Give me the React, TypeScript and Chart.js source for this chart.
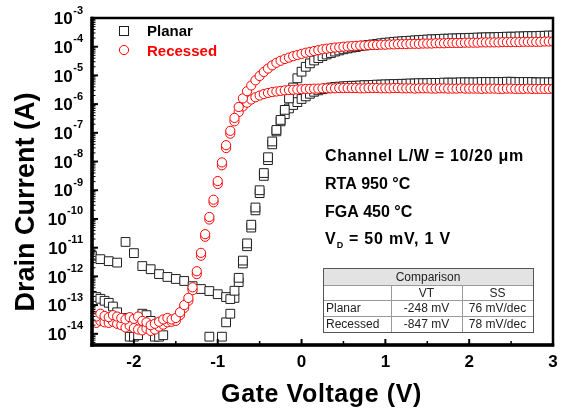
import React, { useEffect, useRef } from 'react';
import { Chart, registerables } from 'chart.js';

Chart.register(...registerables);

const FONT = '"Liberation Sans", Arial, Helvetica, sans-serif';

// Gate voltage sweep (V)
const gateVoltage = [
  -2.5, -2.45, -2.4, -2.35, -2.3, -2.25, -2.2, -2.15, -2.1, -2.05,
  -2, -1.95, -1.9, -1.85, -1.8, -1.75, -1.7, -1.65, -1.6, -1.55,
  -1.5, -1.45, -1.4, -1.35, -1.3, -1.25, -1.2, -1.15, -1.1, -1.05,
  -1, -0.95, -0.9, -0.85, -0.8, -0.75, -0.7, -0.65, -0.6, -0.55,
  -0.5, -0.45, -0.4, -0.35, -0.3, -0.25, -0.2, -0.15, -0.1, -0.05,
  0, 0.05, 0.1, 0.15, 0.2, 0.25, 0.3, 0.35, 0.4, 0.45,
  0.5, 0.55, 0.6, 0.65, 0.7, 0.75, 0.8, 0.85, 0.9, 0.95,
  1, 1.05, 1.1, 1.15, 1.2, 1.25, 1.3, 1.35, 1.4, 1.45,
  1.5, 1.55, 1.6, 1.65, 1.7, 1.75, 1.8, 1.85, 1.9, 1.95,
  2, 2.05, 2.1, 2.15, 2.2, 2.25, 2.3, 2.35, 2.4, 2.45,
  2.5, 2.55, 2.6, 2.65, 2.7, 2.75, 2.8, 2.85, 2.9, 2.95,
  3,
];

// log10 of drain current (A)
const planar1VLog = [
  -11.28, -15, -11.40, -15, -11.47, -15, -11.52, -15, -10.80, -15,
  -11.19, -15, -11.64, -15, -11.75, -15, -11.92, -15, -12.02, -15,
  -12.09, -15, -12.16, -15, -12.34, -15, -12.44, -15, -12.51, -15,
  -12.62, -15, -12.72, -12.79, -12.50, -12.05, -11.45, -10.85, -10.20, -9.60,
  -9.00, -8.40, -7.85, -7.30, -6.90, -6.55, -6.20, -5.80, -5.42, -5.10,
  -4.87, -4.70, -4.58, -4.48, -4.40, -4.33, -4.27, -4.22, -4.17, -4.13,
  -4.09, -4.06, -4.03, -4.01, -3.98, -3.96, -3.94, -3.92, -3.90, -3.88,
  -3.86, -3.85, -3.83, -3.82, -3.81, -3.80, -3.79, -3.78, -3.77, -3.76,
  -3.75, -3.74, -3.74, -3.73, -3.72, -3.72, -3.71, -3.71, -3.70, -3.70,
  -3.69, -3.69, -3.68, -3.68, -3.67, -3.67, -3.67, -3.66, -3.66, -3.65,
  -3.65, -3.65, -3.64, -3.64, -3.63, -3.63, -3.63, -3.62, -3.62, -3.61,
  -3.61,
];

const planar50mVLog = [
  -12.68, -12.72, -12.78, -12.85, -12.92, -13.05, -13.25, -13.50, -13.45, -14.10,
  -14.10, -14.05, -13.30, -13.35, -13.55, -14.10, -14.10, -14.05, -13.55, -15,
  -15, -15, -15, -15, -15, -15, -15, -15, -14.10, -15,
  -15, -14.10, -13.60, -13.30, -12.75, -12.20, -11.55, -10.95, -10.30, -9.70,
  -9.10, -8.50, -7.95, -7.40, -6.95, -6.60, -6.35, -6.15, -6.03, -5.93,
  -5.82, -5.73, -5.64, -5.57, -5.52, -5.48, -5.45, -5.42, -5.40, -5.39,
  -5.38, -5.37, -5.36, -5.36, -5.35, -5.34, -5.34, -5.33, -5.32, -5.32,
  -5.31, -5.31, -5.30, -5.30, -5.29, -5.29, -5.28, -5.28, -5.27, -5.27,
  -5.27, -5.26, -5.26, -5.26, -5.25, -5.25, -5.25, -5.25, -5.24, -5.24,
  -5.24, -5.24, -5.24, -5.23, -5.23, -5.23, -5.23, -5.23, -5.23, -5.22,
  -5.22, -5.23, -5.23, -5.23, -5.23, -5.23, -5.24, -5.24, -5.24, -5.24,
  -5.24,
];

const recessed1VLog = [
  -13.35, -13.40, -13.30, -13.38, -13.42, -13.35, -13.40, -13.45, -13.50, -13.42,
  -13.48, -13.40, -13.55, -13.60, -13.70, -13.65, -13.58, -13.50, -13.45, -13.50,
  -13.45, -13.25, -13.00, -12.75, -12.38, -11.82, -11.18, -10.53, -9.93, -9.33,
  -8.68, -8.03, -7.43, -6.93, -6.48, -6.10, -5.80, -5.55, -5.35, -5.17,
  -5.02, -4.88, -4.76, -4.65, -4.56, -4.49, -4.43, -4.38, -4.33, -4.29,
  -4.25, -4.21, -4.18, -4.15, -4.12, -4.09, -4.07, -4.05, -4.03, -4.02,
  -4.00, -3.99, -3.98, -3.97, -3.96, -3.96, -3.95, -3.94, -3.94, -3.93,
  -3.93, -3.92, -3.92, -3.91, -3.91, -3.91, -3.90, -3.90, -3.90, -3.89,
  -3.89, -3.89, -3.88, -3.88, -3.88, -3.87, -3.87, -3.87, -3.87, -3.86,
  -3.86, -3.86, -3.86, -3.85, -3.85, -3.85, -3.85, -3.85, -3.84, -3.84,
  -3.84, -3.84, -3.84, -3.83, -3.83, -3.83, -3.83, -3.83, -3.82, -3.82,
  -3.82,
];

const recessed50mVLog = [
  -13.58, -13.62, -13.55, -13.60, -13.62, -13.58, -13.65, -13.70, -13.78, -13.72,
  -13.80, -13.85, -13.88, -13.82, -13.90, -13.85, -13.75, -13.68, -13.60, -13.58,
  -13.55, -13.35, -13.10, -12.85, -12.48, -11.92, -11.28, -10.62, -10.02, -9.42,
  -8.78, -8.13, -7.53, -7.03, -6.60, -6.28, -6.08, -5.95, -5.84, -5.76,
  -5.70, -5.65, -5.61, -5.58, -5.56, -5.54, -5.52, -5.51, -5.50, -5.49,
  -5.48, -5.47, -5.47, -5.46, -5.46, -5.45, -5.45, -5.45, -5.45, -5.44,
  -5.44, -5.44, -5.44, -5.44, -5.45, -5.45, -5.44, -5.44, -5.44, -5.45,
  -5.45, -5.45, -5.44, -5.44, -5.45, -5.45, -5.45, -5.46, -5.45, -5.45,
  -5.45, -5.46, -5.46, -5.45, -5.45, -5.46, -5.46, -5.46, -5.45, -5.46,
  -5.46, -5.46, -5.46, -5.47, -5.46, -5.46, -5.46, -5.47, -5.47, -5.46,
  -5.46, -5.47, -5.47, -5.47, -5.46, -5.47, -5.47, -5.47, -5.47, -5.47,
  -5.47,
];

// Axes
const xMin = -2.5;
const xMax = 3;
const xTicks = [-2, -1, 0, 1, 2, 3];
const xMinorTicks = [-1.5, -0.5, 0.5, 1.5, 2.5];
const yMinExp = -14.39;
const yMaxExp = -3;
const yTickExponents = [-3, -4, -5, -6, -7, -8, -9, -10, -11, -12, -13, -14];
const xTitle = 'Gate Voltage (V)';
const yTitle = 'Drain Current (A)';

// Legend and annotations
const legendLabels = ['Planar', 'Recessed'];
const legendColors = ['#000000', '#ff0000'];
const annotationLines = ['Channel L/W = 10/20 \u03bcm', 'RTA 950 \u00b0C', 'FGA 450 \u00b0C'];
const biasPrefix = 'V';
const biasSub = 'D';
const biasSuffix = ' = 50 mV, 1 V';

// Comparison table
const tableTitle = 'Comparison';
const tableHead = ['', 'VT', 'SS'];
const tableRows = [
  ['Planar', '-248 mV', '76 mV/dec'],
  ['Recessed', '-847 mV', '78 mV/dec'],
];

const RED = '#ff0000';
const DARK = '#1e1e1e';

function toPoints(logs: number[]) {
  return gateVoltage.map((v, i) => ({ x: v, y: Math.pow(10, logs[i]) }));
}

function line(ctx: CanvasRenderingContext2D, x1: number, y1: number, x2: number, y2: number) {
  ctx.beginPath();
  ctx.moveTo(x1, y1);
  ctx.lineTo(x2, y2);
  ctx.stroke();
}

const overlayPlugin = {
  id: 'overlay',
  afterDraw(chart: any) {
    const ctx: CanvasRenderingContext2D = chart.ctx;
    const a = chart.chartArea;
    const xs = chart.scales.x;
    const ys = chart.scales.y;
    ctx.save();
    ctx.strokeStyle = '#000';
    ctx.lineCap = 'butt';

    // frame
    ctx.lineWidth = 2.5;
    ctx.strokeRect(a.left, a.top, a.right - a.left, a.bottom - a.top);
    ctx.lineWidth = 3.5;
    line(ctx, a.left, a.top - 1.25, a.left, a.bottom + 1.75);
    line(ctx, a.left - 1.75, a.bottom, a.right + 1.25, a.bottom);

    // y ticks (inward)
    ctx.lineWidth = 2;
    yTickExponents.forEach((e) => {
      const y = ys.getPixelForValue(Math.pow(10, e));
      line(ctx, a.left, y, a.left + 6, y);
    });
    ctx.lineWidth = 1;
    for (let e = -15; e <= -4; e++) {
      for (let m = 2; m <= 9; m++) {
        const v = m * Math.pow(10, e);
        if (v <= ys.min || v >= ys.max) continue;
        const y = ys.getPixelForValue(v);
        line(ctx, a.left, y, a.left + 3.5, y);
      }
    }

    // x ticks (inward)
    ctx.lineWidth = 2;
    xTicks.forEach((v) => {
      const x = xs.getPixelForValue(v);
      line(ctx, x, a.bottom, x, a.bottom - 6);
    });
    ctx.lineWidth = 1.5;
    xMinorTicks.forEach((v) => {
      const x = xs.getPixelForValue(v);
      line(ctx, x, a.bottom, x, a.bottom - 4);
    });

    // y tick labels
    ctx.fillStyle = '#000';
    ctx.textBaseline = 'alphabetic';
    const labelRight = a.left - 9;
    yTickExponents.forEach((e) => {
      const y = ys.getPixelForValue(Math.pow(10, e));
      const exp = String(e);
      ctx.font = `bold 11px ${FONT}`;
      const we = ctx.measureText(exp).width;
      ctx.textAlign = 'left';
      ctx.fillText(exp, labelRight - we, y - 4.5);
      ctx.font = `bold 17px ${FONT}`;
      ctx.textAlign = 'right';
      ctx.fillText('10', labelRight - we - 0.5, y + 6.2);
    });

    // x tick labels
    ctx.font = `bold 17px ${FONT}`;
    ctx.textAlign = 'center';
    xTicks.forEach((v) => {
      const x = xs.getPixelForValue(v);
      ctx.fillText(String(v), x, a.bottom + 22);
    });

    // axis titles
    ctx.font = `bold 25px ${FONT}`;
    (ctx as any).letterSpacing = '0.6px';
    ctx.textAlign = 'center';
    ctx.fillText(xTitle, (a.left + a.right) / 2 - 1, 402);
    (ctx as any).letterSpacing = '0px';
    ctx.save();
    ctx.translate(34, 202);
    ctx.rotate(-Math.PI / 2);
    ctx.font = `bold 27px ${FONT}`;
    ctx.textAlign = 'center';
    ctx.fillText(yTitle, 0, 0);
    ctx.restore();

    // legend
    ctx.lineWidth = 1;
    ctx.strokeStyle = DARK;
    ctx.fillStyle = '#fff';
    ctx.fillRect(119.5, 26.5, 9, 9);
    ctx.strokeRect(119.5, 26.5, 9, 9);
    ctx.strokeStyle = RED;
    ctx.beginPath();
    ctx.arc(124, 50, 4.6, 0, Math.PI * 2);
    ctx.stroke();
    ctx.font = `bold 15px ${FONT}`;
    ctx.textAlign = 'left';
    ctx.fillStyle = legendColors[0];
    ctx.fillText(legendLabels[0], 147, 36);
    ctx.fillStyle = legendColors[1];
    ctx.fillText(legendLabels[1], 147, 56);

    // annotations
    ctx.fillStyle = '#000';
    ctx.font = `bold 16px ${FONT}`;
    const ax = 325;
    const baselines = [161, 189, 217, 244];
    annotationLines.forEach((t, i) => {
      (ctx as any).letterSpacing = i === 0 ? '0.7px' : '0px';
      ctx.fillText(t, ax, baselines[i]);
    });
    (ctx as any).letterSpacing = '0px';
    ctx.fillText(biasPrefix, ax, baselines[3]);
    const wV = ctx.measureText(biasPrefix).width;
    ctx.font = `bold 9px ${FONT}`;
    ctx.fillText(biasSub, ax + wV + 1, baselines[3] + 4);
    const wD = ctx.measureText(biasSub).width;
    ctx.font = `bold 16px ${FONT}`;
    (ctx as any).letterSpacing = '0.8px';
    ctx.fillText(biasSuffix, ax + wV + wD + 1.5, baselines[3]);
    (ctx as any).letterSpacing = '0px';

    // table
    const cols = [323, 391, 462, 533];
    const rows = [268, 285, 300, 316, 332];
    ctx.fillStyle = '#ffffff';
    ctx.fillRect(cols[0], rows[0], cols[3] - cols[0], rows[4] - rows[0]);
    ctx.fillStyle = '#e3e3e3';
    ctx.fillRect(cols[0], rows[0], cols[3] - cols[0], rows[1] - rows[0]);
    ctx.strokeStyle = '#9a9a9a';
    ctx.lineWidth = 1;
    for (let r = 1; r < rows.length - 1; r++) line(ctx, cols[0], rows[r] + 0.5, cols[3], rows[r] + 0.5);
    line(ctx, cols[1] + 0.5, rows[1], cols[1] + 0.5, rows[4]);
    line(ctx, cols[2] + 0.5, rows[1], cols[2] + 0.5, rows[4]);
    ctx.strokeStyle = '#555';
    ctx.strokeRect(cols[0] + 0.5, rows[0] + 0.5, cols[3] - cols[0], rows[4] - rows[0]);

    ctx.fillStyle = '#222';
    ctx.font = `12px ${FONT}`;
    ctx.textBaseline = 'middle';
    ctx.textAlign = 'center';
    ctx.fillText(tableTitle, (cols[0] + cols[3]) / 2, (rows[0] + rows[1]) / 2 + 1);
    tableHead.forEach((h, c) => {
      if (!h) return;
      ctx.fillText(h, (cols[c] + cols[c + 1]) / 2, (rows[1] + rows[2]) / 2 + 1);
    });
    tableRows.forEach((row, r) => {
      const cy = (rows[r + 2] + rows[r + 3]) / 2 + 1;
      row.forEach((cell, c) => {
        if (c === 0) {
          ctx.textAlign = 'left';
          ctx.fillText(cell, cols[0] + 3, cy);
        } else {
          ctx.textAlign = 'center';
          ctx.fillText(cell, (cols[c] + cols[c + 1]) / 2, cy);
        }
      });
    });

    ctx.restore();
  },
};

export default function App() {
  const canvasRef = useRef<HTMLCanvasElement | null>(null);

  useEffect(() => {
    const canvas = canvasRef.current;
    if (!canvas) return;
    const chart = new Chart(canvas, {
      type: 'scatter',
      data: {
        datasets: [
          {
            label: 'Recessed 1 V',
            data: toPoints(recessed1VLog),
            pointStyle: 'circle',
            pointRadius: 4.6,
            borderColor: RED,
            backgroundColor: '#ffffff',
            borderWidth: 1,
            clip: 0,
          },
          {
            label: 'Recessed 50 mV',
            data: toPoints(recessed50mVLog),
            pointStyle: 'circle',
            pointRadius: 4.6,
            borderColor: RED,
            backgroundColor: '#ffffff',
            borderWidth: 1,
            clip: 0,
          },
          {
            label: 'Planar 1 V',
            data: toPoints(planar1VLog),
            pointStyle: 'rect',
            pointRadius: 6.2,
            borderColor: DARK,
            backgroundColor: '#ffffff',
            borderWidth: 1,
            clip: 0,
          },
          {
            label: 'Planar 50 mV',
            data: toPoints(planar50mVLog),
            pointStyle: 'rect',
            pointRadius: 6.2,
            borderColor: DARK,
            backgroundColor: '#ffffff',
            borderWidth: 1,
            clip: 0,
          },
        ] as any,
      },
      options: {
        responsive: false,
        animation: false,
        devicePixelRatio: 1,
        events: [],
        layout: { padding: { left: 92, top: 18, right: 14, bottom: 63 } },
        plugins: {
          legend: { display: false },
          tooltip: { enabled: false },
        },
        scales: {
          x: { type: 'linear', min: xMin, max: xMax, display: false },
          y: { type: 'logarithmic', min: Math.pow(10, yMinExp), max: Math.pow(10, yMaxExp), display: false },
        },
      } as any,
      plugins: [overlayPlugin],
    });
    return () => chart.destroy();
  }, []);

  return (
    <div style={{ position: 'absolute', left: 0, top: 0, width: 567, height: 408, background: '#fff' }}>
      <canvas ref={canvasRef} width={567} height={408} style={{ width: 567, height: 408, display: 'block' }} />
    </div>
  );
}
